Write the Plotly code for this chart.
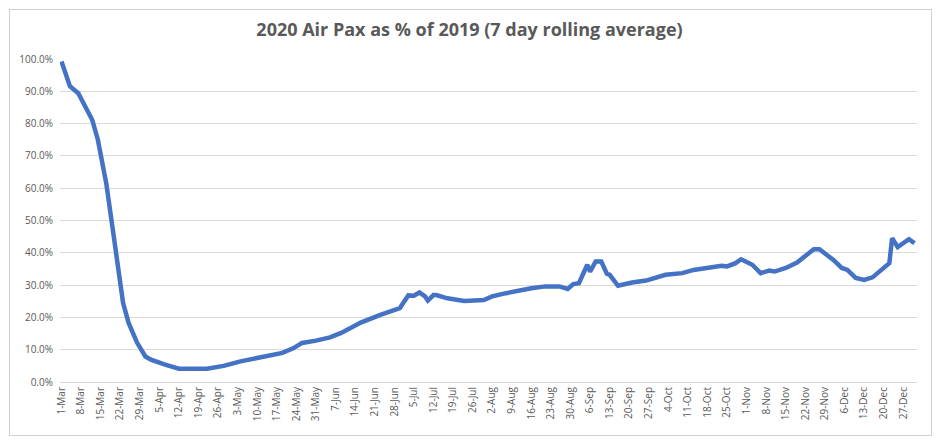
import pandas as pd
import plotly.graph_objects as go

# day offsets from 1-Mar-2020 and the 7 day rolling average (% of 2019)
day_offsets = [0, 3, 6, 9, 11, 13, 16, 18, 20, 22, 24, 27, 30, 32, 37, 42, 52, 58, 64, 70,
               75, 79, 83, 86, 91, 96, 100, 107, 114, 121, 122, 124, 126, 128, 130, 131, 133, 134,
               138, 144, 151, 154, 159, 163, 168, 173, 178, 181, 183, 185, 188, 189, 191, 193,
               195, 196, 199, 204, 209, 216, 222, 226, 232, 236, 238, 241, 243, 247, 250, 253,
               255, 259, 263, 266, 269, 271, 274, 276, 279, 281, 284, 287, 290, 294, 296, 297,
               299, 303, 305]
pax_pct = [99.2, 91.6, 89.4, 84.2, 81.1, 75.0, 61.5, 49.3, 36.9, 24.5, 18.3, 12.2, 7.9, 6.9, 5.4,
           4.1, 4.1, 5.0, 6.4, 7.4, 8.4, 9.0, 10.5, 12.1, 12.8, 13.8, 15.2, 18.4, 20.8, 22.9, 24.2,
           26.8, 26.7, 27.7, 26.5, 25.2, 26.9, 26.9, 25.9, 25.1, 25.4, 26.5, 27.5, 28.2, 29.0, 29.6,
           29.6, 28.8, 30.3, 30.6, 36.3, 34.2, 37.3, 37.3, 33.5, 33.2, 29.8, 30.8, 31.4, 33.2, 33.7,
           34.7, 35.3, 36.0, 35.8, 36.8, 38.0, 36.3, 33.7, 34.5, 34.2, 35.3, 37.0, 38.9, 41.1, 41.1,
           39.1, 37.8, 35.3, 34.7, 32.2, 31.6, 32.4, 35.3, 36.8, 44.5, 41.8, 44.2, 43.0]

dates = pd.Timestamp("2020-03-01") + pd.to_timedelta(day_offsets, unit="D")
values = [v / 100 for v in pax_pct]

fig = go.Figure()
fig.add_trace(go.Scatter(x=dates, y=values, mode="lines",
                         line=dict(color="#4472C4", width=4.5)))

# page body has an 8px margin, so the figure is a bit smaller than the window
W, H = 932, 434
L, R, T, B = 52, 23, 51, 60
pw, ph = W - L - R, H - T - B

fig.update_layout(
    width=W, height=H,
    margin=dict(l=L, r=R, t=T, b=B, autoexpand=False),
    paper_bgcolor="white", plot_bgcolor="white",
    showlegend=False,
    title=dict(text="<b>2020 Air Pax as % of 2019 (7 day rolling average)</b>",
               x=461.5 / W, xref="container", xanchor="center",
               y=1 - 22 / H, yref="container", yanchor="middle",
               font=dict(family="Open Sans", size=18, color="#595959")),
    font=dict(family="Open Sans", size=10, color="#595959"),
)
fig.update_xaxes(
    type="date",
    range=["2020-02-29 11:00", "2020-12-31 21:30"],
    tick0="2020-03-01", dtick=7 * 86400000, tickformat="%-d-%b",
    tickangle=-90, showgrid=False, zeroline=False,
    showline=True, linecolor="#D9D9D9", ticks="", automargin=False,
    tickfont=dict(size=10, color="#595959"),
)
fig.update_yaxes(
    range=[0, 1.0], dtick=0.1, tickformat=".1%",
    showgrid=True, gridcolor="#D9D9D9", gridwidth=1, zeroline=False,
    ticks="", automargin=False, ticklabelstandoff=6,
    tickfont=dict(size=10, color="#595959"),
)
# chart area border: an empty annotation box the size of the chart
cx, cy = (1 + 923.5) / 2, (1 + 427.5) / 2
fig.add_annotation(text=" ", showarrow=False, xref="paper", yref="paper",
                   x=(cx - L) / pw, y=(H - B - cy) / ph,
                   xanchor="center", yanchor="middle",
                   width=921, height=425, borderpad=0, borderwidth=1,
                   bordercolor="#D0D0D0", bgcolor="rgba(0,0,0,0)")

fig.write_html("out.html")
